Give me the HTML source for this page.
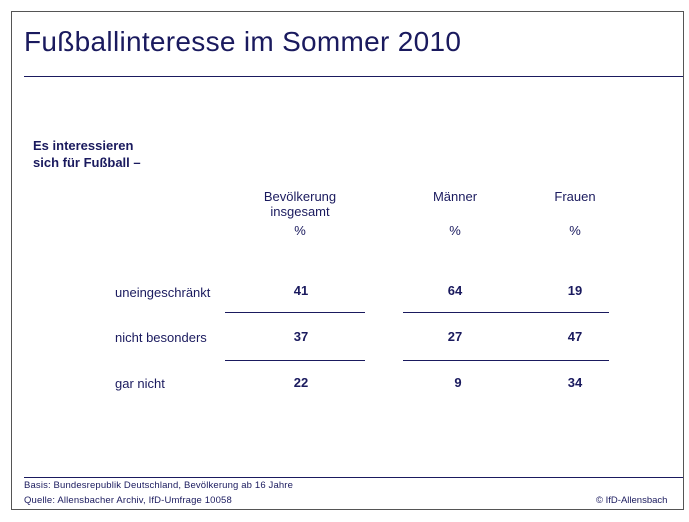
<!DOCTYPE html>
<html><head><meta charset="utf-8"><style>
body{margin:0;width:689px;height:522px;background:#fff;position:relative;font-family:"Liberation Sans",sans-serif;color:#1a1a5e;overflow:hidden}
div{position:absolute;white-space:nowrap}
.l{background:#1a1a5e;height:1px}
.c{text-align:center;font-size:13px}
.b{font-weight:bold;font-size:13px}
</style></head><body>
<div style="left:11px;top:11px;width:671px;height:497px;border:1px solid #555"></div>
<div style="left:24px;top:26px;font-size:28px;letter-spacing:0.3px">Fußballinteresse im Sommer 2010</div>
<div class="l" style="left:24px;top:76px;width:659px"></div>
<div style="left:33px;top:137px;font-size:13px;font-weight:bold;line-height:17px">Es interessieren<br>sich für Fußball –</div>
<div class="c" style="left:250px;top:189px;width:100px;line-height:15px">Bevölkerung<br>insgesamt</div>
<div class="c" style="left:405px;top:189px;width:100px">Männer</div>
<div class="c" style="left:525px;top:189px;width:100px">Frauen</div>
<div class="c" style="left:250px;top:223px;width:100px">%</div>
<div class="c" style="left:405px;top:223px;width:100px">%</div>
<div class="c" style="left:525px;top:223px;width:100px">%</div>
<div style="left:115px;top:285px;font-size:13px">uneingeschränkt</div>
<div style="left:115px;top:330px;font-size:13px">nicht besonders</div>
<div style="left:115px;top:376px;font-size:13px">gar nicht</div>
<div class="c b" style="left:276px;top:283px;width:50px">41</div>
<div class="c b" style="left:430px;top:283px;width:50px">64</div>
<div class="c b" style="left:550px;top:283px;width:50px">19</div>
<div class="c b" style="left:276px;top:329px;width:50px">37</div>
<div class="c b" style="left:430px;top:329px;width:50px">27</div>
<div class="c b" style="left:550px;top:329px;width:50px">47</div>
<div class="c b" style="left:276px;top:375px;width:50px">22</div>
<div class="c b" style="left:433px;top:375px;width:50px">9</div>
<div class="c b" style="left:550px;top:375px;width:50px">34</div>
<div class="l" style="left:225px;top:312px;width:140px"></div>
<div class="l" style="left:403px;top:312px;width:206px"></div>
<div class="l" style="left:225px;top:360px;width:140px"></div>
<div class="l" style="left:403px;top:360px;width:206px"></div>
<div class="l" style="left:24px;top:477px;width:659px"></div>
<div style="left:24px;top:480px;font-size:9.5px;letter-spacing:0.15px">Basis: Bundesrepublik Deutschland, Bevölkerung ab 16 Jahre</div>
<div style="left:24px;top:495px;font-size:9.5px;letter-spacing:0.15px">Quelle: Allensbacher Archiv, IfD-Umfrage 10058</div>
<div style="left:596px;top:495px;font-size:9.5px">© IfD-Allensbach</div>
</body></html>
